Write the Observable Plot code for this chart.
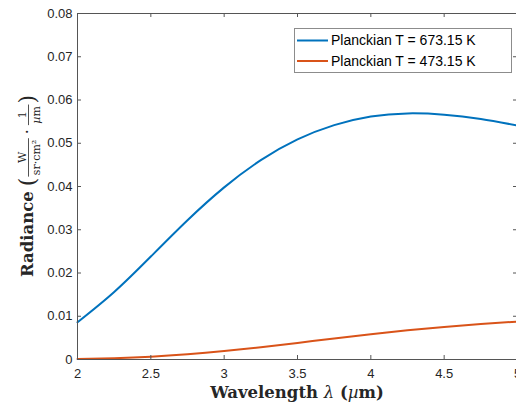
<!DOCTYPE html>
<html><head><meta charset="utf-8">
<script src="https://cdn.jsdelivr.net/npm/d3@7"></script>
<script src="https://cdn.jsdelivr.net/npm/@observablehq/plot@0.6"></script>
<style>
html,body{margin:0;padding:0;background:#fff;overflow:hidden;}
#chart svg{display:block;overflow:hidden;}
</style></head><body><div id="chart"></div>
<script>
// ---- data ----
const wavelengths = [2.0, 2.25, 2.5, 2.75, 3.0, 3.25, 3.5, 3.75, 4.0, 4.25, 4.5, 4.75, 5.0];
const radianceHot = [0.0086, 0.0156, 0.0238, 0.0322, 0.0398, 0.0461, 0.0509, 0.0542, 0.0562, 0.0569, 0.0566, 0.0556, 0.0541];
const radianceCool = [0.0001, 0.0003, 0.00064, 0.0012, 0.00195, 0.00285, 0.00384, 0.00485, 0.00583, 0.00674, 0.00754, 0.00822, 0.00877];
const seriesNames = ["Planckian T = 673.15 K", "Planckian T = 473.15 K"];
const seriesColors = ["#0072BD", "#D95319"];
const xTicks = [2, 2.5, 3, 3.5, 4, 4.5, 5];
const xTickLabels = ["2", "2.5", "3", "3.5", "4", "4.5", "5"];
const yTicks = [0, 0.01, 0.02, 0.03, 0.04, 0.05, 0.06, 0.07, 0.08];
const yTickLabels = ["0", "0.01", "0.02", "0.03", "0.04", "0.05", "0.06", "0.07", "0.08"];

const rows = [];
wavelengths.forEach((w, i) => {
  rows.push({lambda: w, value: radianceHot[i], series: seriesNames[0]});
  rows.push({lambda: w, value: radianceCool[i], series: seriesNames[1]});
});

const W = 516, H = 407, mL = 77, mT = 13, mB = 48, mR = -1;
const plotW = W - mL - mR, plotH = H - mT - mB;
const tickLen = 4;
const axisColor = "#555555";

const chart = Plot.plot({
  width: W, height: H,
  marginLeft: mL, marginRight: mR, marginTop: mT, marginBottom: mB,
  style: {fontFamily: "'Liberation Sans', Arial, sans-serif", fontSize: "13px", color: "#262626", background: "#fff", overflow: "hidden"},
  x: {domain: [2, 5]},
  y: {domain: [0, 0.08]},
  color: {domain: seriesNames, range: seriesColors},
  marks: [
    Plot.line(rows, {x: "lambda", y: "value", z: "series", stroke: "series", strokeWidth: 2, curve: "natural"}),
    Plot.tickX(xTicks, {x: d => d, stroke: axisColor, strokeWidth: 1, insetTop: plotH - tickLen}),
    Plot.tickX(xTicks, {x: d => d, stroke: axisColor, strokeWidth: 1, insetBottom: plotH - tickLen}),
    Plot.tickY(yTicks, {y: d => d, stroke: axisColor, strokeWidth: 1, insetRight: plotW - tickLen}),
    Plot.tickY(yTicks, {y: d => d, stroke: axisColor, strokeWidth: 1, insetLeft: plotW - tickLen}),
    Plot.frame({stroke: axisColor, strokeWidth: 1}),
    Plot.axisX({ticks: xTicks, tickSize: 0, tickPadding: 9, label: null, tickFormat: d => xTickLabels[xTicks.indexOf(d)]}),
    Plot.axisY({ticks: yTicks, tickSize: 0, tickPadding: 5, label: null, tickFormat: d => yTickLabels[yTicks.indexOf(d)]})
  ]
});
document.getElementById("chart").appendChild(chart);

const svg = d3.select(chart);
const serif = "'DejaVu Serif', 'Liberation Serif', serif";

// x axis label
const xl = svg.append("text")
  .attr("x", mL + plotW / 2).attr("y", 398)
  .attr("text-anchor", "middle")
  .attr("font-family", serif).attr("font-size", 16.5).attr("fill", "#262626");
xl.append("tspan").attr("font-weight", "bold").text("Wavelength ");
xl.append("tspan").attr("font-style", "italic").text("λ");
xl.append("tspan").attr("font-weight", "bold").text(" (");
xl.append("tspan").attr("font-style", "italic").text("µ");
xl.append("tspan").attr("font-weight", "bold").text("m)");

// y axis label (rotated, with fractions)
const outer = svg.append("g").attr("transform", `translate(33,${mT + plotH / 2}) rotate(-90)`);
const g = outer.append("g").attr("text-anchor", "start");
let cx = 0;
function txt(str, size, opts = {}) {
  const t = g.append("text").attr("text-anchor", "start").attr("font-family", serif).attr("font-size", size).attr("fill", "#262626")
    .attr("font-weight", opts.bold ? "bold" : "normal").attr("y", opts.y || 0);
  if (opts.parts) {
    opts.parts.forEach(p => t.append("tspan").attr("font-style", p.italic ? "italic" : "normal").text(p.s));
  } else t.text(str);
  return t;
}
function place(t, gap = 0) {
  const w = t.node().getComputedTextLength();
  t.attr("x", cx); cx += w + gap; return w;
}
function frac(num, den, size) {
  const n = txt(null, size, {y: -7.5, parts: num});
  const d = txt(null, size, {y: 7, parts: den});
  const wn = n.node().getComputedTextLength(), wd = d.node().getComputedTextLength();
  const w = Math.max(wn, wd) + 3;
  n.attr("x", cx + (w - wn) / 2);
  d.attr("x", cx + (w - wd) / 2);
  g.append("line").attr("x1", cx).attr("x2", cx + w).attr("y1", -4.5).attr("y2", -4.5)
    .attr("stroke", "#262626").attr("stroke-width", 0.8);
  cx += w;
}
place(txt("Radiance", 16.5, {bold: true}), 5);
place(txt("(", 22, {y: 2}), 1);
frac([{s: "W"}], [{s: "sr·cm²"}], 11);
cx += 4;
place(txt("·", 16, {y: 0}), 4);
frac([{s: "1"}], [{s: "µ", italic: true}, {s: "m"}], 11);
cx += 1;
place(txt(")", 22, {y: 2}), 0);
g.attr("transform", `translate(${-cx / 2},0)`);

// legend
const lg = svg.append("g").attr("text-anchor", "start");
lg.append("rect").attr("x", 294.5).attr("y", 28.5).attr("width", 217).attr("height", 44)
  .attr("fill", "#fff").attr("stroke", "#8c8c8c").attr("stroke-width", 1);
seriesNames.forEach((name, i) => {
  const yy = 40.5 + i * 20.5;
  lg.append("line").attr("x1", 297).attr("x2", 328).attr("y1", yy).attr("y2", yy)
    .attr("stroke", seriesColors[i]).attr("stroke-width", 2);
  lg.append("text").attr("text-anchor", "start").attr("x", 331).attr("y", yy).attr("dy", "0.35em")
    .attr("font-family", "'Liberation Sans', Arial, sans-serif").attr("font-size", 14)
    .attr("fill", "#000").text(name);
});
</script></body></html>
